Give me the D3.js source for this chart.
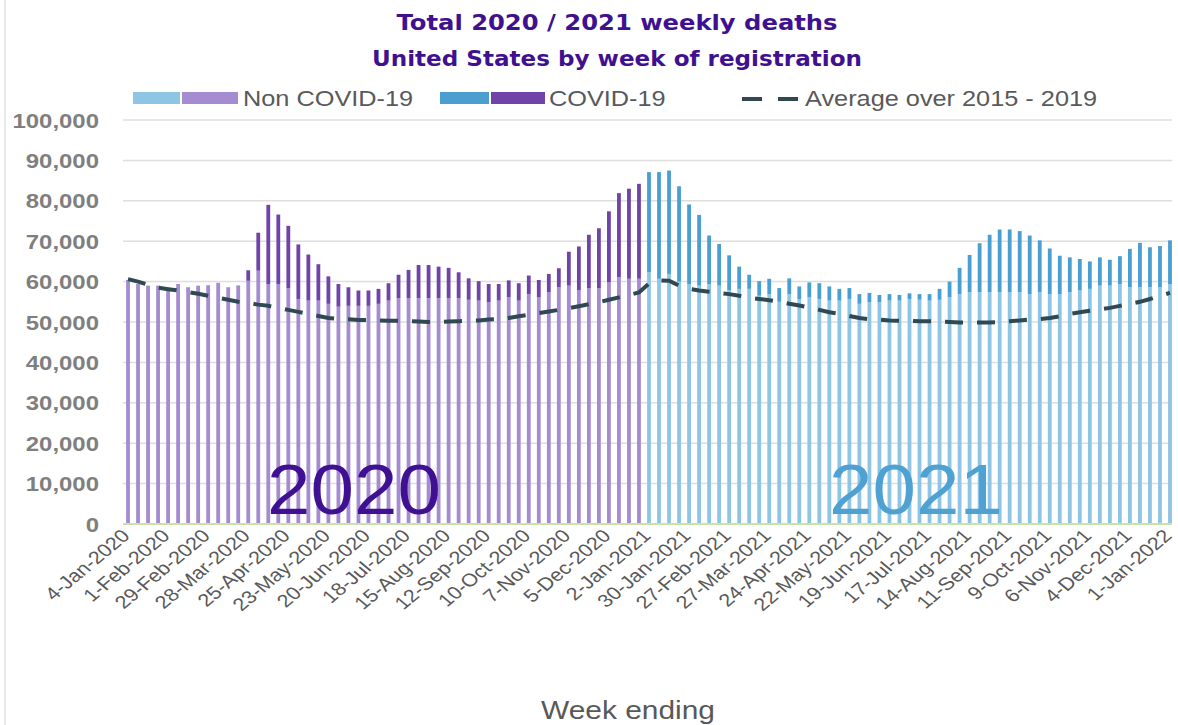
<!DOCTYPE html>
<html>
<head>
<meta charset="utf-8">
<script src="https://cdn.jsdelivr.net/npm/d3@7"></script>
<style>
  body { margin: 0; background: #fff; }
  svg { display: block; }
</style>
</head>
<body>
<div id="chart"></div>
<script>
// Weekly deaths, United States, week ending 4-Jan-2020 .. 1-Jan-2022
const nonCovid = [
  60400, 59400, 59000, 59000, 58600, 59400, 58600, 59000, 59100, 59700,
  58600, 58800, 60200, 62700, 59400, 59400, 58400, 55700, 55300, 55300,
  54500, 53800, 54000, 54000, 54000, 54500, 55300, 55900, 55900, 55900,
  55900, 55900, 55900, 55900, 55500, 55300, 54900, 55300, 56100, 55300,
  56900, 56100, 57400, 58600, 59000, 57900, 58400, 58400, 59800, 61100,
  60700, 60700,
  62300, 60700, 61900, 60000, 59400, 59000, 59400, 59000, 57800, 58200,
  58200, 56500, 56900, 55000, 56900, 55700, 56100, 55700, 55300, 55300,
  55700, 54500, 54900, 54900, 55300, 55300, 55700, 55500, 55300, 55500,
  56100, 56900, 57400, 57400, 57400, 57400, 57400, 57400, 56900, 57400,
  56900, 56900, 57400, 57800, 58200, 59000, 59000, 59400, 58600, 58600,
  58600, 58600, 59400
];
const covid = [
  0, 0, 0, 0, 0, 0, 0, 0, 0, 0,
  0, 200, 2600, 9400, 19600, 17200, 15400, 13500, 11400, 9000,
  6800, 5600, 4600, 3800, 3800, 3700, 4300, 5800, 7000, 8200,
  8200, 7800, 7500, 6400, 5300, 4800, 4500, 4100, 4200, 4300,
  4600, 4300, 4500, 4700, 8400, 10800, 13200, 14800, 17600, 20800,
  22300, 23500,
  24800, 26400, 25600, 23600, 19700, 17500, 12000, 10300, 8700, 5500,
  3500, 3600, 3800, 3400, 3900, 3100, 3700, 3900, 3500, 2900,
  2700, 2400, 2300, 1800, 1600, 1400, 1400, 1400, 1600, 2700,
  3900, 6500, 9200, 12100, 14200, 15500, 15500, 15100, 14500, 12800,
  11300, 9500, 8600, 7800, 6800, 7000, 6400, 6900, 9500, 11000,
  9900, 10200, 10800
];
const average = [
  60600, 60000, 59200, 58500, 58100, 57800, 57400, 57000, 56500, 56000,
  55500, 55000, 54700, 54300, 54000, 53500, 53000, 52500, 52000, 51500,
  51000, 50800, 50700, 50500, 50500, 50400, 50300, 50300, 50200, 50100,
  50000, 50000, 50100, 50200, 50300, 50400, 50600, 50700, 51000, 51400,
  51800, 52200, 52600, 53000, 53400, 53900, 54400, 54900, 55500, 56100,
  56700, 57300,
  59500, 60300, 60200, 59000, 58200, 57800, 57500, 57200, 56900, 56500,
  56000, 55700, 55400, 55000, 54500, 54100, 53600, 53000, 52400, 52000,
  51500, 51000, 50700, 50600, 50400, 50300, 50300, 50200, 50200, 50100,
  50000, 49900, 49900, 49900, 49900, 50000, 50200, 50400, 50600, 50700,
  51000, 51400, 52000, 52400, 52800, 53100, 53500, 54000, 54500, 55000,
  55700, 56500, 57200
];
const yTicks = [0, 10000, 20000, 30000, 40000, 50000, 60000, 70000, 80000, 90000, 100000];
const seriesNames = ["Non COVID-19", "COVID-19", "Average over 2015 - 2019"];

// week-ending dates (categories)
const firstWeek = new Date(2020, 0, 4);
const weeks = nonCovid.map((d, i) => d3.timeDay.offset(firstWeek, i * 7));
const fmt = d3.timeFormat("%-d-%b-%Y");

const width = 1178, height = 725;
const colors = {
  2020: { light: "#a58bd0", dark: "#7043a8" },
  2021: { light: "#8fc5e4", dark: "#4a9fd0" }
};

const svg = d3.select("#chart").append("svg")
  .attr("width", width).attr("height", height);

// stretch text horizontally to match the wide look of the original
function widen(sel, k) {
  sel.each(function() {
    const w = this.getComputedTextLength();
    d3.select(this).attr("textLength", w * k).attr("lengthAdjust", "spacingAndGlyphs");
  });
}

// faint chart border on the left
svg.append("line").attr("x1", 5).attr("x2", 5).attr("y1", 0).attr("y2", height)
  .attr("stroke", "#e3e3e3").attr("stroke-width", 1.5);

const xScale = d3.scaleBand()
  .domain(d3.range(weeks.length))
  .range([123, 1175])
  .paddingInner(0.62).paddingOuter(0.31);

const yScale = d3.scaleLinear()
  .domain([0, 100000])
  .range([524, 120]);

// gridlines
svg.append("g").selectAll("line")
  .data(yTicks.filter(d => d > 0))
  .enter().append("line")
    .attr("x1", 123).attr("x2", 1172)
    .attr("y1", d => yScale(d)).attr("y2", d => yScale(d))
    .attr("stroke", "#dedede").attr("stroke-width", 1.5);

// y labels
svg.append("g").selectAll("text")
  .data(yTicks)
  .enter().append("text")
    .attr("x", 99).attr("y", d => yScale(d) + 7.5)
    .attr("text-anchor", "end")
    .attr("font-family", "Liberation Sans, Arial, sans-serif")
    .attr("font-weight", "bold").attr("font-size", "21px")
    .attr("fill", "#7f7f7f")
    .text(d => d3.format(",")(d))
    .call(widen, 1.14);

// stacked bars
const yearOf = i => i >= 52 ? 2021 : 2020;
const bars = svg.append("g");
bars.selectAll("rect.non")
  .data(nonCovid)
  .enter().append("rect")
    .attr("class", "non")
    .attr("x", (d, i) => xScale(i))
    .attr("width", xScale.bandwidth())
    .attr("y", d => yScale(d))
    .attr("height", d => yScale(0) - yScale(d))
    .attr("fill", (d, i) => colors[yearOf(i)].light);

bars.selectAll("rect.cov")
  .data(covid)
  .enter().append("rect")
    .attr("class", "cov")
    .attr("x", (d, i) => xScale(i))
    .attr("width", xScale.bandwidth())
    .attr("y", (d, i) => yScale(nonCovid[i] + d))
    .attr("height", (d, i) => yScale(nonCovid[i]) - yScale(nonCovid[i] + d))
    .attr("fill", (d, i) => colors[yearOf(i)].dark);

// baseline
svg.append("line").attr("x1", 123).attr("x2", 1172)
  .attr("y1", yScale(0)).attr("y2", yScale(0))
  .attr("stroke", "#c7e3a6").attr("stroke-width", 2);

// average line
const line = d3.line()
  .x((d, i) => xScale(i) + xScale.bandwidth() / 2)
  .y(d => yScale(d));
svg.append("path")
  .datum(average)
  .attr("d", line)
  .attr("fill", "none")
  .attr("stroke", "#2f4852")
  .attr("stroke-width", 4)
  .attr("stroke-dasharray", "18,14");

// x tick labels, every 4th week (rotated, then stretched sideways like the original)
svg.append("g").selectAll("text")
  .data(d3.range(0, weeks.length, 4))
  .enter().append("text")
    .attr("transform", i => `translate(${xScale(i) + xScale.bandwidth() / 2 + 3},${537}) scale(1.2,1) rotate(-45)`)
    .attr("text-anchor", "end")
    .attr("font-family", "Liberation Sans, Arial, sans-serif")
    .attr("font-size", "18px")
    .attr("fill", "#595959")
    .text(i => fmt(weeks[i]));

// year annotations
svg.append("text").attr("x", 354).attr("y", 514).attr("text-anchor", "middle")
  .attr("font-family", "Liberation Sans, Arial, sans-serif").attr("font-size", "71px")
  .attr("fill", "#3f1192").text("2020").call(widen, 1.1);
svg.append("text").attr("x", 916).attr("y", 514).attr("text-anchor", "middle")
  .attr("font-family", "Liberation Sans, Arial, sans-serif").attr("font-size", "71px")
  .attr("fill", "#4ea1d1").text("2021").call(widen, 1.1);

// title
const title = svg.append("g")
  .attr("font-family", "DejaVu Sans, Verdana, sans-serif")
  .attr("font-weight", "bold").attr("font-size", "21px")
  .attr("fill", "#3f1190").attr("text-anchor", "middle")
  .attr("lengthAdjust", "spacingAndGlyphs");
title.append("text").attr("x", 617).attr("y", 30)
  .attr("textLength", 441).attr("lengthAdjust", "spacingAndGlyphs")
  .text("Total 2020 / 2021 weekly deaths");
title.append("text").attr("x", 617).attr("y", 66)
  .attr("textLength", 490).attr("lengthAdjust", "spacingAndGlyphs")
  .text("United States by week of registration");

// legend
const legend = svg.append("g")
  .attr("font-family", "Liberation Sans, Arial, sans-serif")
  .attr("font-size", "22px").attr("fill", "#595959");
legend.append("rect").attr("x", 133).attr("y", 92).attr("width", 47).attr("height", 12).attr("fill", colors[2021].light);
legend.append("rect").attr("x", 182).attr("y", 92).attr("width", 56).attr("height", 12).attr("fill", colors[2020].light);
legend.append("text").attr("x", 243).attr("y", 106).text(seriesNames[0]).call(widen, 1.15);
legend.append("rect").attr("x", 440).attr("y", 92).attr("width", 49).attr("height", 12).attr("fill", colors[2021].dark);
legend.append("rect").attr("x", 491).attr("y", 92).attr("width", 54).attr("height", 12).attr("fill", colors[2020].dark);
legend.append("text").attr("x", 549).attr("y", 106).text(seriesNames[1]).call(widen, 1.15);
legend.append("line").attr("x1", 742).attr("x2", 800).attr("y1", 99).attr("y2", 99)
  .attr("stroke", "#2f4852").attr("stroke-width", 4).attr("stroke-dasharray", "20,16");
legend.append("text").attr("x", 805).attr("y", 106).text(seriesNames[2]).call(widen, 1.15);

// axis title
svg.append("text").attr("x", 628).attr("y", 719).attr("text-anchor", "middle")
  .attr("font-family", "Liberation Sans, Arial, sans-serif").attr("font-size", "26px")
  .attr("fill", "#595959").text("Week ending").call(widen, 1.15);
</script>
</body>
</html>
